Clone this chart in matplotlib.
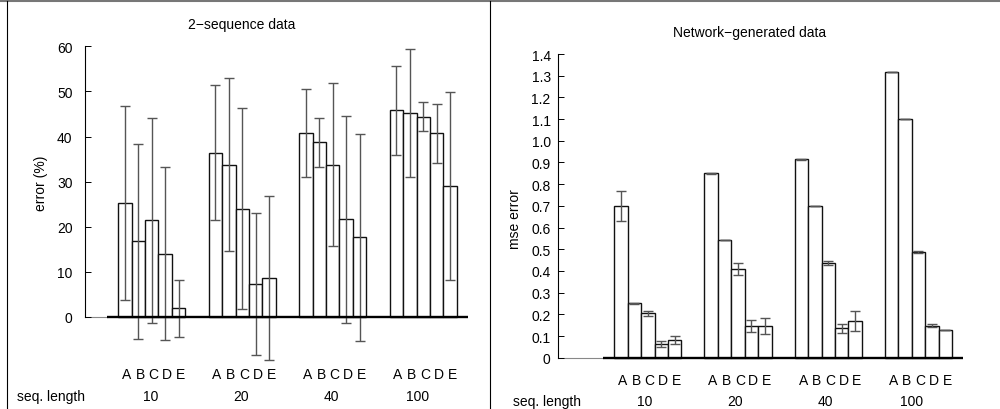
import matplotlib
matplotlib.use('Agg')
import matplotlib.pyplot as plt
from matplotlib.transforms import blended_transform_factory
from matplotlib.lines import Line2D

plt.rcParams['font.family'] = ['Liberation Sans', 'DejaVu Sans']

groups = ['10', '20', '40', '100']
methods = ['A', 'B', 'C', 'D', 'E']

seq_err = [[25.2, 16.7, 21.4, 14.0, 1.9],
           [36.4, 33.7, 24.0, 7.3, 8.6],
           [40.7, 38.7, 33.7, 21.6, 17.6],
           [45.8, 45.3, 44.4, 40.7, 29.0]]
seq_sd = [[21.5, 21.7, 22.8, 19.2, 6.3],
          [15.0, 19.2, 22.4, 15.8, 18.3],
          [9.8, 5.5, 18.1, 23.0, 23.0],
          [9.8, 14.2, 3.2, 6.5, 20.8]]

net_err = [[0.698, 0.250, 0.204, 0.065, 0.080],
           [0.850, 0.541, 0.407, 0.146, 0.148],
           [0.914, 0.699, 0.436, 0.135, 0.169],
           [1.317, 1.100, 0.489, 0.148, 0.128]]
net_sd = [[0.070, 0.003, 0.012, 0.014, 0.018],
          [0.003, 0.0, 0.028, 0.027, 0.037],
          [0.001, 0.0, 0.010, 0.020, 0.047],
          [0.0, 0.0, 0.004, 0.007, 0.002]]

seq_ticks = [0, 10, 20, 30, 40, 50, 60]
net_ticks = [0, 0.1, 0.2, 0.3, 0.4, 0.5, 0.6, 0.7, 0.8, 0.9, 1.0, 1.1, 1.2, 1.3, 1.4]

W, H = 1000, 410
fig = plt.figure(figsize=(W / 100, H / 100), dpi=100)


def make_axes(x0px, y0px, ppx, ppy, xlim, ylim):
    left = x0px + xlim[0] * ppx
    right = x0px + xlim[1] * ppx
    bottom = y0px - ylim[0] * ppy
    top = y0px - ylim[1] * ppy
    ax = fig.add_axes([left / W, 1 - bottom / H, (right - left) / W, (bottom - top) / H])
    ax.set_xlim(xlim)
    ax.set_ylim(ylim)
    ax.patch.set_alpha(0)
    return ax


def draw(ax, vals, sds, off, ticks, labels, pad, title, title_y, ylabel, ylabel_xy,
         letters_y, seq_y, seq_x, num_dx):
    w = 0.149
    for i in range(len(groups)):
        xs = [off + i + j * w for j in range(len(methods))]
        ax.bar(xs, vals[i], width=w, align='edge', facecolor='white',
               edgecolor='#111111', linewidth=1.0, zorder=2)
        ax.errorbar([x + w / 2 for x in xs], vals[i], yerr=sds[i], fmt='none',
                    ecolor='#555555', elinewidth=1.0, capsize=3.6, capthick=1.0, zorder=3)
    start = off - 0.12
    end = off + len(groups) - 1 + len(methods) * w + 0.12
    ax.plot([0, start], [0, 0], color='#888888', lw=0.8, zorder=1, clip_on=False)
    ax.plot([start, end], [0, 0], color='black', lw=1.7, zorder=4, solid_capstyle='butt')

    for s in ['top', 'right', 'bottom']:
        ax.spines[s].set_visible(False)
    ax.spines['left'].set_bounds(ticks[0], ticks[-1])
    ax.spines['left'].set_linewidth(0.8)
    ax.set_xticks([])
    ax.set_yticks(ticks)
    ax.set_yticklabels(labels)
    ax.tick_params(axis='y', direction='in', length=4, width=0.7, labelsize=10, pad=pad)

    tr = blended_transform_factory(ax.transData, fig.transFigure)
    for i, g in enumerate(groups):
        for j, m in enumerate(methods):
            ax.text(off + i + j * w + w / 2 + 0.02, 1 - letters_y / H, m, transform=tr,
                    ha='center', va='center', fontsize=10)
        ax.text(off + i + len(methods) * w / 2 + num_dx, 1 - seq_y / H, g, transform=tr,
                ha='right', va='center', fontsize=10)
    fig.text(seq_x / W, 1 - seq_y / H, 'seq. length', ha='left', va='center', fontsize=10)
    fig.text(title[1] / W, 1 - title_y / H, title[0], ha='center', va='center', fontsize=10)
    fig.text(ylabel_xy[0] / W, 1 - ylabel_xy[1] / H, ylabel, rotation=90,
             ha='center', va='center', fontsize=10)


ax1 = make_axes(85, 317.7, 90.5, 4.505, (0, 4.4), (-12, 62))
draw(ax1, seq_err, seq_sd, 0.365, seq_ticks, [str(t) for t in seq_ticks], 9,
     ('2\u2212sequence data', 242), 25, 'error (%)', (41, 183), 375, 397, 17, 0.07)

ax2 = make_axes(558.3, 358.7, 90.2, 216.9, (0, 4.6), (-0.05, 1.45))
draw(ax2, net_err, net_sd, 0.62, net_ticks,
     ['0'] + ['%.1f' % t for t in net_ticks[1:]], 5.5,
     ('Network\u2212generated data', 750), 33, 'mse error', (515, 219), 381, 402, 513, 0.05)

fig.add_artist(Line2D([0, 1], [1 - 1.5 / H] * 2, transform=fig.transFigure,
                      color='#777777', lw=1.5))
fig.add_artist(Line2D([7.3 / W] * 2, [0, 1 - 2 / H], transform=fig.transFigure,
                      color='black', lw=0.8))
fig.add_artist(Line2D([490 / W] * 2, [0, 1 - 2 / H], transform=fig.transFigure,
                      color='black', lw=0.8))

fig.savefig('out.png', dpi=100, facecolor='white')
